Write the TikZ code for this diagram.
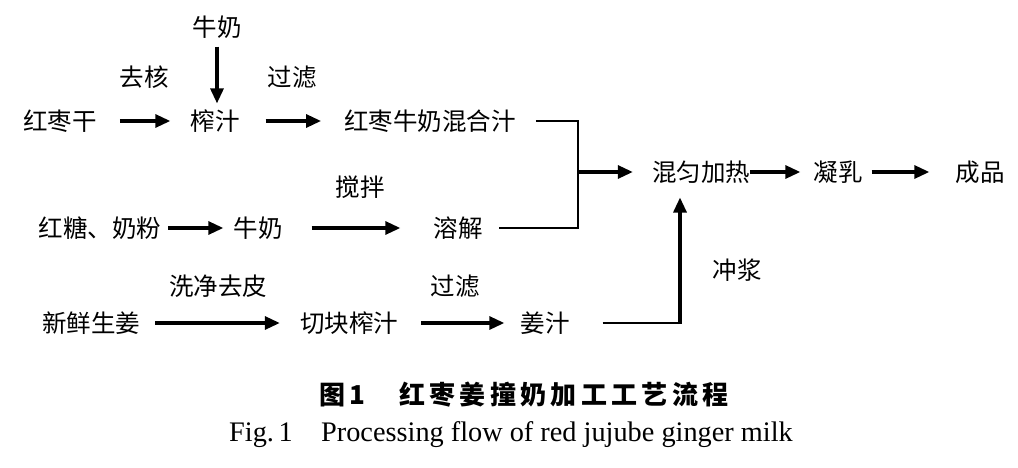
\documentclass[tikz,border=0pt]{standalone}
\usepackage{fontspec}
\setmainfont{Liberation Serif}
\newfontfamily\cjk{Noto Sans CJK SC}
\usetikzlibrary{arrows.meta}
\tikzset{
  txt/.style={font=\cjk\fontsize{24.5}{26}\selectfont, inner sep=0pt, text=black},
  lbl/.style={font=\cjk\fontsize{24.5}{26}\selectfont, inner sep=0pt, text=black},
  arr/.style={line width=3.2pt, -{Triangle[length=15pt,width=13pt]}},
  conn/.style={line width=2.4pt},
}
\begin{document}
\begin{tikzpicture}[x=1pt,y=-1pt]
\useasboundingbox (0,0) rectangle (1018,468);
\fill[white] (0,0) rectangle (1018,468);
% row 1
\node[txt] (milk0) at (217,27) {牛奶};
\node[txt] (zjz) at (60,121) {红枣干};
\node[txt] (zz) at (215,121) {榨汁};
\node[txt] (mix1) at (430,121) {红枣牛奶混合汁};
\node[lbl] (l1) at (144,77) {去核};
\node[lbl] (l2) at (292,77) {过滤};
% row 2
\node[txt] (sugar) at (100,228) {红糖、奶粉};
\node[txt] (milk2) at (258,228) {牛奶};
\node[txt] (rj) at (458,228) {溶解};
\node[lbl] (l3) at (360,187) {搅拌};
% row 3
\node[txt] (ginger) at (91,323) {新鲜生姜};
\node[txt] (qk) at (349,323) {切块榨汁};
\node[txt] (jz) at (545,323) {姜汁};
\node[lbl] (l4) at (218,286) {洗净去皮};
\node[lbl] (l5) at (455,286) {过滤};
% mix row
\node[txt] (hj) at (701,172) {混匀加热};
\node[txt] (nr) at (838,172) {凝乳};
\node[txt] (cp) at (980,172) {成品};
\node[lbl] (l6) at (737,270) {冲浆};
% merge points
\coordinate (m1) at (578,121);
\coordinate (m2) at (578,228);
\coordinate (mm) at (578,172);
\coordinate (g1) at (680,323);
\coordinate (hjb) at ([yshift=-14pt]hj.south);
% arrows
\draw[arr] ([yshift=-8pt]milk0.south) -- ([yshift=6pt]milk0 |- zz.north);
\draw[arr] ([xshift=23pt]zjz.east) -- ([xshift=-20pt]zz.west);
\draw[arr] ([xshift=26pt]zz.east) -- ([xshift=-23pt]mix1.west);
\draw[arr] ([xshift=7pt]sugar.east) -- ([xshift=-10pt]milk2.west);
\draw[arr] ([xshift=29pt]milk2.east) -- ([xshift=-33pt]rj.west);
\draw[arr] ([xshift=15pt]ginger.east) -- ([xshift=-20pt]qk.west);
\draw[arr] ([xshift=23pt]qk.east) -- ([xshift=-16pt]jz.west);
\draw[arr] (hj.east) -- ([xshift=-13pt]nr.west);
\draw[arr] ([xshift=9pt]nr.east) -- ([xshift=-26pt]cp.west);
% merge connectors
\draw[conn] ([xshift=20pt]mix1.east) -- (m1) -- (m2) -- ([xshift=16pt]rj.east);
\draw[arr] (mm) -- ([xshift=-19pt]hj.west);
\draw[conn] ([xshift=33pt]jz.east) -- (g1);
\draw[arr] ([yshift=-1pt]g1) -- (g1 |- hjb);
% captions
\node[font=\cjk\bfseries\fontsize{26}{28}\selectfont, inner sep=0pt] (cap1) at (524,395) {图\,1\hspace{1.3em}红\,枣\,姜\,撞\,奶\,加\,工\,工\,艺\,流\,程};
\node[font=\fontsize{28.3}{30}\selectfont, inner sep=0pt] (cap2) at (511,435) {Fig.\,1\hspace{1em}Processing flow of red jujube ginger milk};
\end{tikzpicture}
\end{document}
